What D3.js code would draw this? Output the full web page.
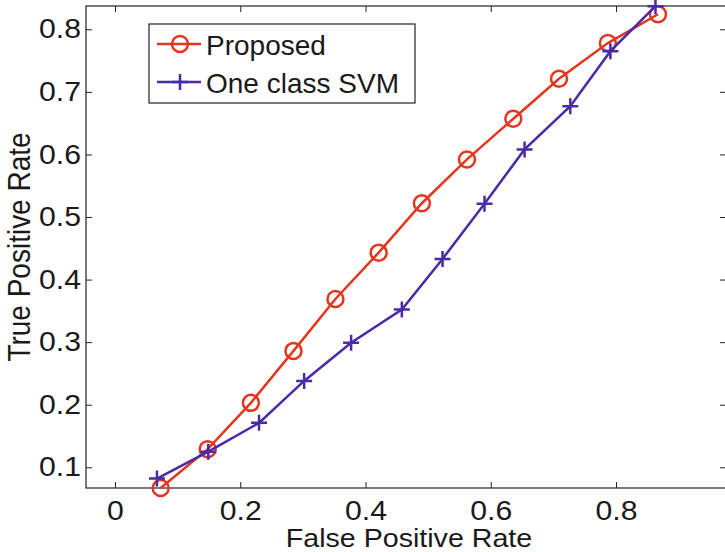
<!DOCTYPE html>
<html lang="en">
  <head>
    <meta charset="UTF-8" />
    <title>ROC curve</title>
    <style>
      body {
        margin: 0;
        background: #fff;
        overflow: hidden;
      }
      svg text {
        font-family: "Liberation Sans", Arial, sans-serif;
        fill: #1a1a1a;
      }
    </style>
    <script src="https://d3js.org/d3.v7.min.js"></script>
  </head>
  <body>
    <div id="chart"></div>

    <script>
      // values
      const proposedFPR = [0.073, 0.148, 0.217, 0.285, 0.352, 0.421, 0.49, 0.562, 0.636, 0.709, 0.787, 0.867];
      const proposedTPR = [0.067, 0.129, 0.203, 0.286, 0.369, 0.443, 0.522, 0.592, 0.657, 0.721, 0.778, 0.824];
      const svmFPR = [0.067, 0.149, 0.23, 0.302, 0.377, 0.458, 0.523, 0.59, 0.654, 0.727, 0.791, 0.863];
      const svmTPR = [0.082, 0.125, 0.171, 0.238, 0.299, 0.352, 0.433, 0.521, 0.608, 0.677, 0.765, 0.837];
      const xTicks = [0, 0.2, 0.4, 0.6, 0.8];
      const yTicks = [0.1, 0.2, 0.3, 0.4, 0.5, 0.6, 0.7, 0.8];
      const seriesNames = ["Proposed", "One class SVM"];

      const red = "#e3361f";
      const purple = "#4a2aa6";

      // the right edge of the box falls just outside the picture
      const margin = { top: 6, right: -1, bottom: 64, left: 86 };
      const width = 725 - margin.left - margin.right;
      const height = 552 - margin.top - margin.bottom;

      const svg = d3
        .select("#chart")
        .append("svg")
        .attr("width", 725)
        .attr("height", 552)
        .append("g")
        .attr("transform", `translate(${margin.left},${margin.top})`);

      const x = d3.scaleLinear().domain([-0.0463, 0.9756]).range([0, width]);
      const y = d3.scaleLinear().domain([0.0669, 0.8372]).range([height, 0]);

      // axes, ticks pointing inward on all four sides
      const xAxis = svg
        .append("g")
        .attr("transform", `translate(0,${height})`)
        .call(d3.axisBottom(x).tickValues(xTicks).tickFormat(d3.format("")).tickSizeInner(-6).tickSizeOuter(0).tickPadding(13));
      xAxis.selectAll("text")
        .style("font-size", "27px")
        .attr("transform", "scale(1.12,1)");

      const yAxis = svg
        .append("g")
        .call(d3.axisLeft(y).tickValues(yTicks).tickFormat(d3.format("")).tickSizeInner(-6).tickSizeOuter(0).tickPadding(4.5));
      yAxis.selectAll("text")
        .style("font-size", "27px")
        .attr("transform", "scale(1.12,1)");

      svg.append("g")
        .call(d3.axisTop(x).tickValues(xTicks).tickFormat("").tickSizeInner(-6).tickSizeOuter(0));
      svg.append("g")
        .attr("transform", `translate(${width},0)`)
        .call(d3.axisRight(y).tickValues(yTicks).tickFormat("").tickSizeInner(-6).tickSizeOuter(0));

      svg.selectAll(".domain").remove();
      svg.selectAll(".tick line").attr("stroke", "#222");

      svg.append("rect")
        .attr("x", 0)
        .attr("y", 0)
        .attr("width", width)
        .attr("height", height)
        .attr("fill", "none")
        .attr("stroke", "#222")
        .attr("stroke-width", 1.2);

      const line = d3
        .line()
        .x((d) => x(d[0]))
        .y((d) => y(d[1]));

      const proposed = d3.zip(proposedFPR, proposedTPR);
      const svm = d3.zip(svmFPR, svmTPR);

      svg.append("path")
        .datum(proposed)
        .attr("d", line)
        .attr("fill", "none")
        .attr("stroke", red)
        .attr("stroke-width", 2.5);

      svg.selectAll(".circ")
        .data(proposed)
        .enter()
        .append("circle")
        .attr("class", "circ")
        .attr("cx", (d) => x(d[0]))
        .attr("cy", (d) => y(d[1]))
        .attr("r", 8)
        .attr("fill", "none")
        .attr("stroke", red)
        .attr("stroke-width", 2.5);

      svg.append("path")
        .datum(svm)
        .attr("d", line)
        .attr("fill", "none")
        .attr("stroke", purple)
        .attr("stroke-width", 2.5);

      const cross = "M-8,0H8M0,-8V8";
      svg.selectAll(".cross")
        .data(svm)
        .enter()
        .append("path")
        .attr("class", "cross")
        .attr("d", cross)
        .attr("transform", (d) => `translate(${x(d[0])},${y(d[1])})`)
        .attr("stroke", purple)
        .attr("stroke-width", 2.5);

      // legend
      const legend = svg.append("g").attr("transform", "translate(63,18)");
      legend.append("rect")
        .attr("width", 266)
        .attr("height", 79)
        .attr("fill", "#fff")
        .attr("stroke", "#222")
        .attr("stroke-width", 1.2);

      const colors = [red, purple];
      seriesNames.forEach((name, i) => {
        const row = legend.append("g").attr("transform", `translate(0,${20 + i * 38})`);
        row.append("line")
          .attr("x1", 8)
          .attr("x2", 52)
          .attr("stroke", colors[i])
          .attr("stroke-width", 2.5);
        if (i === 0) {
          row.append("circle")
            .attr("cx", 31)
            .attr("r", 8)
            .attr("fill", "none")
            .attr("stroke", colors[i])
            .attr("stroke-width", 2.5);
        } else {
          row.append("path")
            .attr("d", cross)
            .attr("transform", "translate(31,0)")
            .attr("stroke", colors[i])
            .attr("stroke-width", 2.5);
        }
        row.append("text")
          .attr("x", 57)
          .attr("y", 10.5)
          .style("font-size", "28px")
          .text(name);
      });

      // axis titles
      svg.append("text")
        .attr("transform", `translate(${323},${height + 59}) scale(1.1,1)`)
        .style("text-anchor", "middle")
        .style("font-size", "26px")
        .text("False Positive Rate");

      svg.append("text")
        .attr("transform", `translate(-56,${height / 2}) rotate(-90) scale(1,1.15)`)
        .style("text-anchor", "middle")
        .style("font-size", "28px")
        .text("True Positive Rate");
    </script>
  </body>
</html>
